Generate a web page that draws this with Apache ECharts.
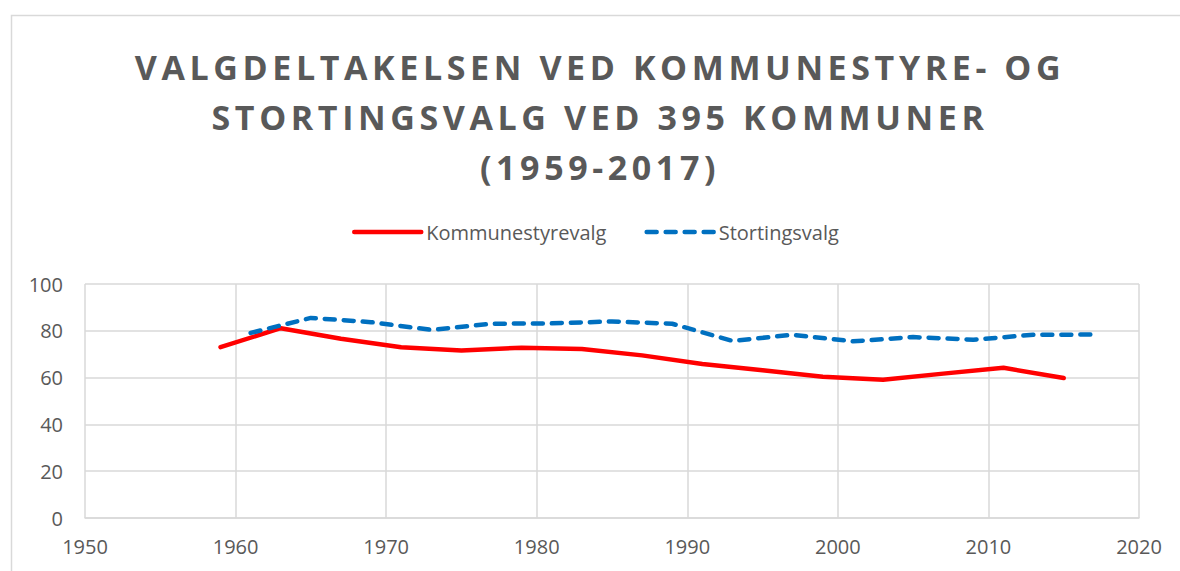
<!DOCTYPE html>
<html>
<head>
<meta charset="utf-8">
<script src="https://cdn.jsdelivr.net/npm/echarts@6/dist/echarts.min.js"></script>
<style>
  html, body { margin: 0; padding: 0; background: #fff; }
  #main { width: 1180px; height: 571px; }
</style>
</head>
<body>
<div id="main"></div>
<script>
var titleLines = ['VALGDELTAKELSEN VED KOMMUNESTYRE- OG', 'STORTINGSVALG VED 395 KOMMUNER', '(1959-2017)'];
var kommuneYears = [1959, 1963, 1967, 1971, 1975, 1979, 1983, 1987, 1991, 1995, 1999, 2003, 2007, 2011, 2015];
var kommuneValues = [73.0, 81.1, 76.6, 73.0, 71.6, 72.8, 72.2, 69.5, 65.8, 63.1, 60.4, 59.1, 61.7, 64.2, 59.8];
var stortingYears = [1961, 1965, 1969, 1973, 1977, 1981, 1985, 1989, 1993, 1997, 2001, 2005, 2009, 2013, 2017];
var stortingValues = [79.1, 85.5, 83.7, 80.4, 83.0, 83.2, 84.0, 83.0, 75.7, 78.3, 75.5, 77.3, 76.2, 78.3, 78.4];

function pairs(xs, ys) {
  return xs.map(function (x, i) { return [x, ys[i]]; });
}

var textColor = '#595959';
var gridColor = '#d9d9d9';

var myChart = echarts.init(document.getElementById('main'), null, { renderer: 'svg' });
option = {
  backgroundColor: '#fff',
  animation: false,
  graphic: [{
    type: 'rect',
    left: 9, top: 13,
    shape: { width: 1200, height: 600 },
    style: { fill: 'none', stroke: gridColor, lineWidth: 1.5 },
    z: -1
  }],
  title: {
    text: titleLines.join('\n'),
    left: 'center',
    top: 37,
    textStyle: {
      fontFamily: 'Open Sans',
      fontWeight: 'bold',
      fontSize: 34,
      lineHeight: 50,
      color: textColor
    }
  },
  legend: {
    data: ['Kommunestyrevalg', 'Stortingsvalg'],
    left: 347,
    top: 217,
    itemWidth: 67,
    itemHeight: 14,
    itemGap: 38,
    itemStyle: { opacity: 0 },
    lineStyle: { width: 4.5 },
    textStyle: { fontFamily: 'Open Sans', fontSize: 20, color: textColor }
  },
  grid: { left: 85, right: 41, top: 284, bottom: 53 },
  xAxis: {
    type: 'value',
    min: 1950,
    max: 2020,
    interval: 10,
    axisLine: { show: true, onZero: false, lineStyle: { color: gridColor, width: 1.5 } },
    axisTick: { show: false },
    splitLine: { show: true, lineStyle: { color: gridColor, width: 1.5 } },
    axisLabel: {
      color: textColor, fontFamily: 'Open Sans', fontSize: 20, margin: 18,
      formatter: function (v) { return String(v); }
    }
  },
  yAxis: {
    type: 'value',
    min: 0,
    max: 100,
    interval: 20,
    axisLine: { show: false },
    axisTick: { show: false },
    splitLine: { show: true, lineStyle: { color: gridColor, width: 1.5 } },
    axisLabel: { color: textColor, fontFamily: 'Open Sans', fontSize: 20, margin: 22 }
  },
  series: [
    {
      name: 'Kommunestyrevalg',
      type: 'line',
      symbol: 'none',
      data: pairs(kommuneYears, kommuneValues),
      lineStyle: { color: '#ff0000', width: 4.5, cap: 'round', join: 'round' },
      itemStyle: { color: '#ff0000' }
    },
    {
      name: 'Stortingsvalg',
      type: 'line',
      symbol: 'none',
      data: pairs(stortingYears, stortingValues),
      lineStyle: { color: '#0070c0', width: 4.5, type: [10, 9], cap: 'round', join: 'round' },
      itemStyle: { color: '#0070c0' }
    }
  ]
};
myChart.setOption(option);

// the title in the original is letter-spaced; zrender has no option for that,
// so space the svg text and nudge it to the original's centre
document.querySelectorAll('#main text').forEach(function (t) {
  if (titleLines.indexOf(t.textContent) > -1) {
    t.style.letterSpacing = '4.6px';
    t.setAttribute('x', (parseFloat(t.getAttribute('x')) || 0) + 10);
  }
});
</script>
</body>
</html>
